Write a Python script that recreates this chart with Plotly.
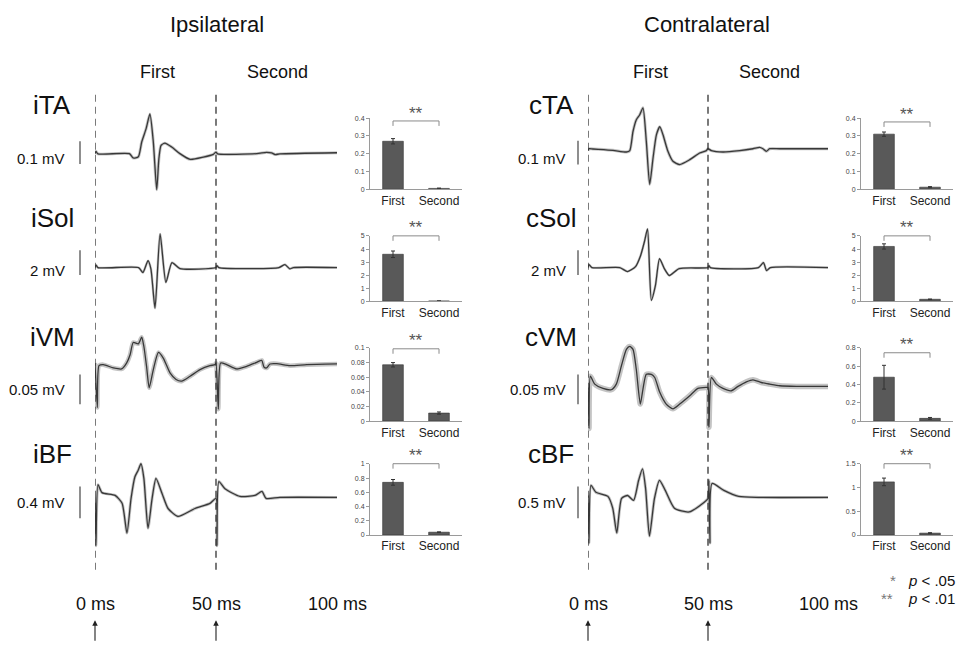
import plotly.graph_objects as go

# ---------------------------------------------------------------- data
muscles_ipsi = ["iTA", "iSol", "iVM", "iBF"]
muscles_contra = ["cTA", "cSol", "cVM", "cBF"]
scale_mV_ipsi = [0.1, 2, 0.05, 0.4]
scale_mV_contra = [0.1, 2, 0.05, 0.5]
scale_labels_ipsi = ["0.1 mV", "2 mV", "0.05 mV", "0.4 mV"]
scale_labels_contra = ["0.1 mV", "2 mV", "0.05 mV", "0.5 mV"]
time_ticks = [0, 50, 100]
time_tick_labels = ["0 ms", "50 ms", "100 ms"]

# averaged EMG traces: time (ms) and amplitude (mV)
iTA_t = [0, 0.4, 1.2, 14.2, 15.8, 17.9, 19.3, 21.1, 22.7, 24.1, 25.5, 26.4, 27.3, 28.9, 31.7,
         35.1, 39.3, 44.8, 48.9, 50.0, 50.7, 66.8, 70.9, 73.0, 74.4, 76.4, 100]
iTA_v = [0, 0.010, -0.001, 0, -0.019, -0.014, 0.051, 0.109, 0.174, 0.051, -0.158, -0.022, 0.036,
         0.046, 0.029, 0, -0.025, -0.015, -0.003, 0.007, -0.001, 0, 0.006, 0.003, -0.004, -0.001, 0.004]

iSol_t = [0, 0.4, 1.2, 18.0, 19.8, 21.9, 23.1, 24.8, 26.9, 29.3, 31.8, 35.1, 50, 50.4, 51.2,
          76, 78.5, 80.5, 82, 100]
iSol_v = [0, 0.2, 0, 0, -0.4, 0.56, -0.1, -3.28, 2.72, -1.2, 0.4, -0.08, 0, 0.15, 0,
          0, 0.24, -0.1, 0, 0]

iVM_t = [0, 0.96, 1.65, 3.44, 7.6, 11.0, 13.1, 14.5, 15.8, 17.9, 19.3, 20.2, 21.3, 22.4, 24.1,
         26.2, 28.2, 31.0, 33.5, 35.8, 39.3, 43.4, 47.5, 49.6, 50.0, 50.96, 51.9, 54.4, 58.5,
         62.7, 66.8, 68.9, 69.8, 70.9, 72.3, 75.1, 80.6, 87.5, 100]
iVM_v = [0.0045, -0.0706, 0, 0.0017, -0.0039, -0.0056, 0.0045, 0.0183, 0.0389, 0.0367, 0.0478,
         0.0322, -0.0011, -0.0372, -0.0067, 0.0222, 0.0128, -0.0122, -0.0233, -0.0261, -0.0178,
         -0.0067, 0, 0.0017, 0.0045, -0.0733, 0.0045, 0.0017, -0.0056, -0.0011, 0.0056, 0.0089,
         -0.0022, -0.0039, 0.0028, 0.0033, 0, 0.0017, 0.0028]

iBF_t = [0, 0.4, 1.24, 2.9, 8.3, 11.2, 13.2, 14.9, 16.5, 17.8, 19.0, 20.2, 21.9, 23.6, 25.2,
         27.7, 30.2, 34.3, 41.3, 47.5, 50, 50.4, 51.2, 53.7, 59.9, 66.1, 69.0, 70.7, 76.4, 100]
iBF_v = [0, -0.61, 0.16, 0.06, 0.025, -0.075, -0.45, -0.0125, 0.26, 0.34, 0.425, 0.24, -0.39,
         -0.0125, 0.24, 0.05, -0.14, -0.24, -0.14, -0.075, -0.0125, -0.61, 0.2, 0.11, 0.0125,
         0.025, 0.075, -0.0125, 0, 0]

cTA_t = [0, 0.42, 2.1, 10.4, 16.0, 17.4, 18.75, 20.1, 21.5, 22.9, 24.3, 25.7, 27.1, 28.5, 29.9,
         31.25, 33.3, 35.4, 38.2, 42.4, 46.5, 49.3, 50, 51.4, 56.25, 63.2, 68.75, 71.5, 72.9,
         74.3, 75.7, 79.9, 100]
cTA_v = [-0.0042, 0.0042, 0.0028, -0.0028, -0.0097, -0.0042, 0.0764, 0.125, 0.146, 0.176, 0.035,
         -0.146, -0.035, 0.0625, 0.097, 0.0625, -0.0069, -0.049, -0.0625, -0.042, -0.014, -0.004,
         0.004, -0.004, -0.0097, -0.004, 0.004, 0.0097, 0.004, -0.007, 0.004, 0.004, 0.004]

cSol_t = [0, 0.4, 1.65, 13.2, 16.5, 19.8, 21.9, 23.6, 24.8, 26.4, 28.1, 29.8, 31.8, 33.9, 38.0,
          50, 50.4, 51, 71, 73.1, 74.4, 76, 100]
cSol_v = [0, 0.24, 0, 0, -0.32, 0.08, 0.96, 2.16, 3.12, -2.64, -1.44, 0.72, -0.08, -0.64, -0.08,
          0, 0.15, 0, 0, 0.4, -0.24, 0, 0]

cVM_t = [0, 0.42, 0.97, 2.8, 6.25, 9.7, 11.8, 13.9, 16.0, 17.4, 18.75, 20.1, 21.8, 22.9, 24.3,
         26.4, 27.8, 29.9, 32.6, 35.4, 38.2, 42.4, 45.8, 49.3, 50, 50.4, 51.4, 53.5, 56.25, 59.7,
         62.5, 66, 68.75, 72.2, 75.7, 79.9, 86.8, 100]
cVM_v = [0, -0.069, 0.019, 0.0056, -0.0017, -0.0039, 0.0056, 0.036, 0.064, 0.069, 0.064, 0.031,
         -0.028, -0.0028, 0.022, 0.022, 0.0167, -0.0083, -0.028, -0.036, -0.028, -0.0139, -0.0017,
         0, 0, -0.067, 0.0167, 0.0056, -0.0017, -0.0056, 0.0017, 0.0094, 0.0128, 0.0083, 0.0056,
         0.0028, 0.0017, 0.0017]

cBF_t = [0, 0.4, 1.24, 3.3, 8.3, 10.3, 12.0, 14.0, 16.5, 19.0, 21.1, 22.7, 24.0, 25.6, 27.7,
         29.8, 32.2, 36, 42.1, 48.3, 50, 50.4, 50.8, 51.7, 56.6, 62.8, 71.1, 100]
cBF_v = [0.03, -0.72, 0.19, 0.08, 0.016, -0.17, -0.56, -0.016, 0.03, -0.047, 0.27, 0.45, 0.14,
         -0.61, -0.016, 0.27, 0.11, -0.17, -0.23, -0.08, -0.016, 0.27, -0.72, 0.22, 0.11, 0.016,
         0, 0]

# bar charts (mean peak-to-peak amplitude, mV)
bar_categories = ["First", "Second"]
iTA_bar, iTA_err = [0.27, 0.005], [0.015, 0.002]
iSol_bar, iSol_err = [3.6, 0.02], [0.25, 0.01]
iVM_bar, iVM_err = [0.077, 0.011], [0.003, 0.0015]
iBF_bar, iBF_err = [0.74, 0.04], [0.04, 0.005]
cTA_bar, cTA_err = [0.31, 0.012], [0.012, 0.003]
cSol_bar, cSol_err = [4.2, 0.15], [0.2, 0.02]
cVM_bar, cVM_err = [0.48, 0.03], [0.13, 0.01]
cBF_bar, cBF_err = [1.12, 0.04], [0.08, 0.01]
bar_ymax_ipsi, bar_dtick_ipsi = [0.4, 5, 0.1, 1], [0.1, 1, 0.02, 0.2]
bar_ymax_contra, bar_dtick_contra = [0.4, 5, 0.8, 1.5], [0.1, 1, 0.2, 0.5]
sig_text = "**"

# ---------------------------------------------------------------- layout helpers
# the page body has an 8 px margin, so the figure is 8 px smaller and shifted
OFF = 8
W, H = 965 - OFF, 647 - OFF
FONT = "Liberation Sans, Arial, sans-serif"


def px_x(p):
    return (p - OFF) / W


def px_y(p):
    return 1 - (p - OFF) / H


def ax_names(n, letter):
    ref = letter if n == 1 else f"{letter}{n}"
    key = f"{letter}axis" if n == 1 else f"{letter}axis{n}"
    return ref, key


panels = [
    dict(title="Ipsilateral", title_x=217, first_x=157, second_x=277,
         muscles=muscles_ipsi, scale=scale_mV_ipsi, scale_lab=scale_labels_ipsi,
         t=[iTA_t, iSol_t, iVM_t, iBF_t], v=[iTA_v, iSol_v, iVM_v, iBF_v],
         bars=[iTA_bar, iSol_bar, iVM_bar, iBF_bar], errs=[iTA_err, iSol_err, iVM_err, iBF_err],
         ymax=bar_ymax_ipsi, dtick=bar_dtick_ipsi,
         xdom=(95, 337), base=[152, 267, 366, 499], barpx=[23, 25, 30, 32],
         band=[3, 2.5, 4.5, 3], label_x=52, scalelab_right=67, scalebar_x=80,
         bar_xdom=(370, 462), brk=[119, 235, 349, 465]),
    dict(title="Contralateral", title_x=707, first_x=650, second_x=769,
         muscles=muscles_contra, scale=scale_mV_contra, scale_lab=scale_labels_contra,
         t=[cTA_t, cSol_t, cVM_t, cBF_t], v=[cTA_v, cSol_v, cVM_v, cBF_v],
         bars=[cTA_bar, cSol_bar, cVM_bar, cBF_bar], errs=[cTA_err, cSol_err, cVM_err, cBF_err],
         ymax=bar_ymax_contra, dtick=bar_dtick_contra,
         xdom=(588, 828), base=[148, 267, 388, 499], barpx=[24, 25, 30, 32],
         band=[3, 2.5, 5.5, 3], label_x=551, scalelab_right=568, scalebar_x=578,
         bar_xdom=(861, 953), brk=[120, 235, 353, 465]),
]
row_dom = [(85, 200), (205, 320), (322, 442), (445, 565)]
label_y = [103, 217, 337, 455]
scalelab_y = [157, 270, 390, 504]
scalebar_cy = [151, 262, 390, 504]
bar_ydom = [(116, 188), (235, 301), (348, 422), (465, 537)]

fig = go.Figure()
layout = {}
shapes = []
annotations = []


def text(x, y, s, size, color="#111", xanchor="center", **kw):
    annotations.append(dict(x=px_x(x), y=px_y(y), xref="paper", yref="paper", text=s,
                            showarrow=False, xanchor=xanchor, yanchor="middle",
                            font=dict(family=FONT, size=size, color=color), **kw))


for p, P in enumerate(panels):
    xref, xkey = ax_names(1 + p, "x")
    first_yref, _ = ax_names(1 + 4 * p, "y")
    layout[xkey] = dict(domain=[px_x(P["xdom"][0]), px_x(P["xdom"][1])], range=[0, 100],
                        visible=False, anchor=first_yref)
    text(P["title_x"], 22, P["title"], 22)
    text(P["first_x"], 70, "First", 18)
    text(P["second_x"], 70, "Second", 18)

    # dashed stimulus lines, time labels and arrows
    for tk, tl in zip(time_ticks, time_tick_labels):
        annotations.append(dict(x=tk, xref=xref, y=px_y(607), yref="paper", text=tl,
                                showarrow=False, xanchor="center", yanchor="middle",
                                font=dict(family=FONT, size=18, color="#111")))
    for tk in time_ticks[:2]:
        shapes.append(dict(type="line", xref=xref, yref="paper", x0=tk, x1=tk,
                           y0=px_y(572), y1=px_y(90),
                           line=dict(color="#333", width=1.3, dash="7px,5px")))
        annotations.append(dict(x=tk, xref=xref, y=px_y(623), yref="paper", text="",
                                showarrow=True, ax=0, ay=22, arrowhead=2, arrowsize=1,
                                arrowwidth=1.1, arrowcolor="#222", standoff=0))

    for r in range(4):
        yref, ykey = ax_names(1 + 4 * p + r, "y")
        k = P["barpx"][r] / P["scale"][r]
        top, bot = row_dom[r]
        y0 = P["base"][r]
        layout[ykey] = dict(domain=[px_y(bot), px_y(top)],
                            range=[(y0 - bot) / k, (y0 - top) / k],
                            visible=False, anchor=xref)
        fig.add_trace(go.Scatter(x=P["t"][r], y=P["v"][r], mode="lines",
                                 line=dict(color="#c4c4c4", width=P["band"][r],
                                           shape="spline", smoothing=0.6),
                                 xaxis=xref, yaxis=yref, hoverinfo="skip", showlegend=False))
        fig.add_trace(go.Scatter(x=P["t"][r], y=P["v"][r], mode="lines",
                                 line=dict(color="#383838", width=1.3,
                                           shape="spline", smoothing=0.6),
                                 xaxis=xref, yaxis=yref, showlegend=False))
        # vertical scale bar
        s = P["scale"][r]
        yc = (y0 - scalebar_cy[r]) / k
        shapes.append(dict(type="line", xref="paper", yref=yref,
                           x0=px_x(P["scalebar_x"]), x1=px_x(P["scalebar_x"]),
                           y0=yc - s / 2, y1=yc + s / 2, line=dict(color="#444", width=1.2)))
        text(P["label_x"], label_y[r], P["muscles"][r], 26)
        text(P["scalelab_right"], scalelab_y[r], P["scale_lab"][r], 15, xanchor="right")

        # ---- bar chart
        bxref, bxkey = ax_names(3 + 4 * p + r, "x")
        byref, bykey = ax_names(11 + 4 * p + r, "y")
        layout[bxkey] = dict(domain=[px_x(P["bar_xdom"][0]), px_x(P["bar_xdom"][1])],
                             anchor=byref, type="category", range=[-0.5, 1.5],
                             showline=True, linecolor="#9a9a9a", linewidth=1, ticks="",
                             tickfont=dict(family=FONT, size=12, color="#222"),
                             showgrid=False, zeroline=False)
        layout[bykey] = dict(domain=[px_y(bar_ydom[r][1]), px_y(bar_ydom[r][0])],
                             anchor=bxref, range=[0, P["ymax"][r] * 1.002],
                             dtick=P["dtick"][r], tick0=0, showline=True,
                             linecolor="#9a9a9a", ticks="outside", ticklen=3,
                             tickcolor="#9a9a9a",
                             tickfont=dict(family=FONT, size=7, color="#444"),
                             showgrid=False, zeroline=False)
        fig.add_trace(go.Bar(x=bar_categories, y=P["bars"][r],
                             error_y=dict(type="data", array=P["errs"][r], color="#333",
                                          thickness=1, width=2),
                             marker=dict(color="#595959", line=dict(width=0.6, color="#333")),
                             width=0.45, xaxis=bxref, yaxis=byref, showlegend=False))
        lvl = P["brk"][r]
        for (xa, ya, xb, yb) in [(0, lvl + 5, 0, lvl), (0, lvl, 1, lvl), (1, lvl, 1, lvl + 5)]:
            shapes.append(dict(type="line", xref=bxref, yref="paper", x0=xa, x1=xb,
                               y0=px_y(ya), y1=px_y(yb), line=dict(color="#8a8a8a", width=1)))
        annotations.append(dict(x=0.5, xref=bxref, y=px_y(lvl - 8), yref="paper",
                                text=sig_text, showarrow=False, xanchor="center",
                                yanchor="middle",
                                font=dict(family=FONT, size=17, color="#555")))

# significance legend
text(893, 583, "*", 15, color="#777")
text(906, 583, "<i>p</i> &lt; .05", 15, xanchor="left")
text(887, 601, "**", 15, color="#777")
text(906, 601, "<i>p</i> &lt; .01", 15, xanchor="left")

fig.update_layout(width=W, height=H, margin=dict(l=0, r=0, t=0, b=0),
                  paper_bgcolor="white", plot_bgcolor="rgba(0,0,0,0)",
                  shapes=shapes, annotations=annotations, bargap=0.2,
                  font=dict(family=FONT), **layout)
fig.write_html("out.html")
